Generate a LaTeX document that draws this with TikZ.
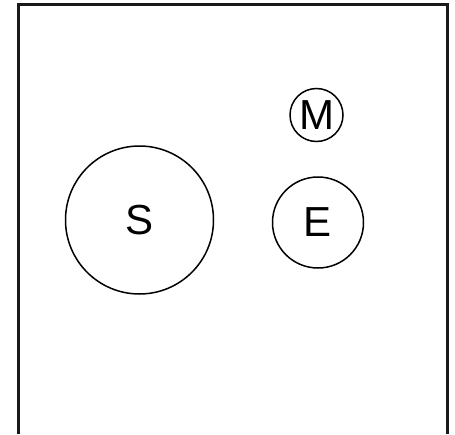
\documentclass[tikz,border=0pt]{standalone}
\usepackage{fontspec}
\setmainfont{Liberation Sans}
\begin{document}
\begin{tikzpicture}[x=1pt,y=-1pt,
  body/.style={circle,draw=black,line width=1.5pt,inner sep=0pt,font=\fontsize{42}{50}\selectfont}]
\useasboundingbox (0,0) rectangle (455,434);
\draw[line width=3pt,color=black!90] (18,434) -- (18,4) -- (447,4) -- (447,434);
\node[body,minimum size=148pt] (S) at (139.5,220) {S};
\node[body,minimum size=91pt] (E) at (318,222.5) {E};
\node[body,minimum size=53pt] (M) at (316.5,115) {M};
\end{tikzpicture}
\end{document}
